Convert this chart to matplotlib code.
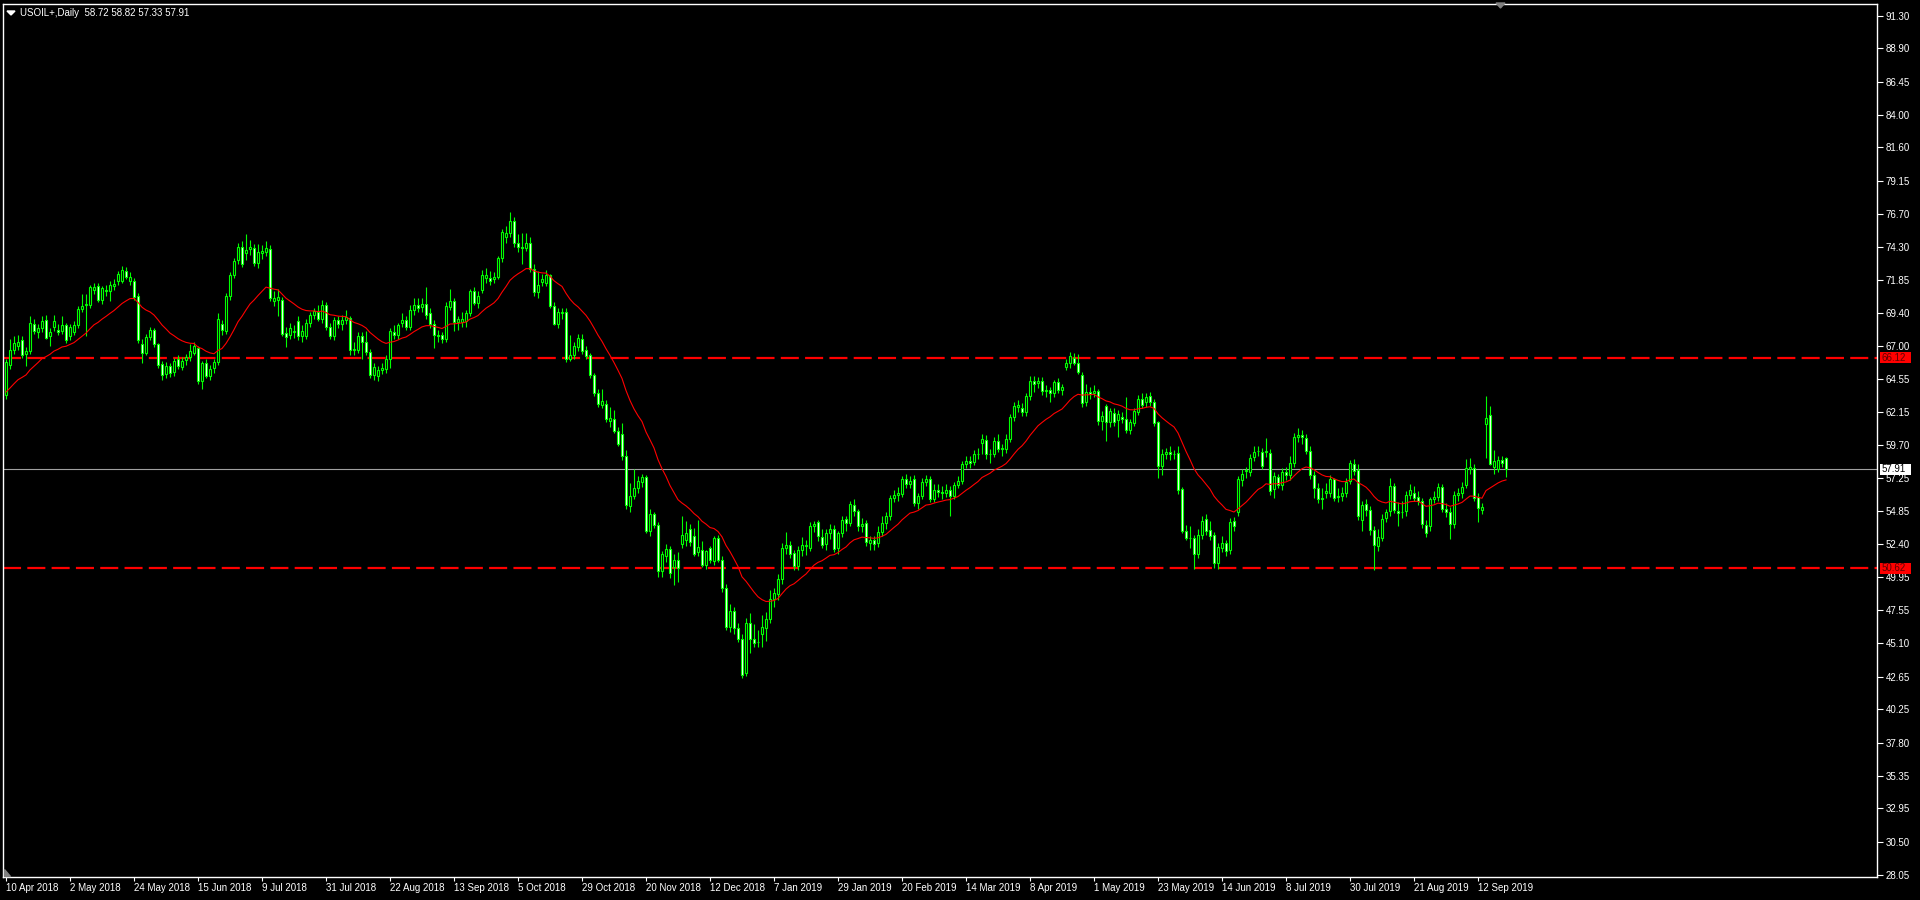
import matplotlib
matplotlib.use('Agg')
import matplotlib.pyplot as plt
import matplotlib.transforms as mtransforms
from matplotlib.patches import Polygon, Rectangle
import numpy as np
import pandas as pd

plt.rcParams['font.family'] = ['Liberation Sans', 'DejaVu Sans']
plt.rcParams['lines.scale_dashes'] = False

header = 'USOIL+,Daily  58.72 58.82 57.33 57.91'

# closes before 10 Apr 2018 (off the left edge), only needed to start the moving average
pre_closes = [62.57, 62.60, 61.15, 60.12, 62.04, 61.36, 60.71, 60.96, 61.19, 62.34,
              62.06, 63.54, 65.17, 64.30, 65.88, 65.55, 65.25, 64.38, 64.94, 63.01,
              63.51, 63.37, 63.54, 62.06, 63.42]

# daily bars, 10 Apr 2018 .. 23 Sep 2019
opens = [
    63.40, 65.60, 66.70, 67.00, 67.40, 66.40, 66.60, 68.60, 68.00, 68.30,
    68.90, 67.70, 68.40, 68.20, 68.10, 68.55, 67.70, 68.00, 68.55, 69.70,
    70.00, 70.00, 71.10, 71.40, 70.40, 71.00, 71.00, 71.42, 71.74, 71.80,
    72.50, 71.80, 71.80, 70.70, 67.15, 66.50, 67.65, 68.20, 67.10, 65.66,
    64.90, 65.50, 65.07, 66.00, 65.45, 65.95, 66.15, 66.50, 66.85, 64.40,
    65.70, 64.80, 65.40, 65.80, 68.60, 68.10, 70.70, 72.20, 73.28, 74.30,
    73.80, 74.10, 74.20, 73.10, 73.80, 73.90, 74.10, 70.30, 70.40, 70.40,
    67.94, 67.80, 68.00, 68.80, 67.70, 67.70, 68.70, 69.30, 69.50, 69.00,
    70.00, 68.40, 67.75, 68.90, 68.60, 68.90, 69.05, 66.70, 66.70, 67.75,
    67.30, 66.55, 64.83, 64.80, 65.20, 65.30, 66.00, 68.00, 67.80, 68.70,
    68.90, 68.40, 69.66, 70.00, 69.86, 70.10, 69.40, 68.60, 67.80, 67.80,
    67.50, 69.85, 70.27, 68.73, 68.73, 68.80, 69.40, 71.00, 70.15, 71.10,
    72.00, 72.00, 71.90, 72.10, 73.46, 75.00, 75.30, 76.20, 74.60, 74.30,
    74.20, 74.60, 72.65, 70.96, 71.70, 71.60, 72.20, 69.95, 68.60, 69.40,
    69.50, 66.03, 66.30, 66.90, 67.50, 66.67, 66.30, 64.83, 63.50, 62.62,
    62.75, 61.50, 61.64, 60.76, 60.50, 58.90, 55.20, 55.98, 56.50, 57.00,
    57.35, 53.36, 54.60, 53.80, 50.42, 51.50, 52.06, 50.70, 51.27, 52.40,
    52.70, 53.48, 53.00, 51.80, 52.00, 50.90, 52.10, 51.15, 52.87, 51.27,
    49.19, 46.30, 47.50, 46.25, 45.44, 42.95, 46.60, 45.44, 45.20, 45.76,
    46.25, 46.90, 48.33, 48.70, 49.80, 52.13, 52.33, 51.76, 50.80, 52.00,
    52.25, 52.13, 53.70, 54.00, 52.94, 52.40, 53.20, 53.50, 52.10, 53.24,
    54.27, 53.97, 55.27, 54.83, 53.70, 53.97, 52.50, 52.67, 52.50, 53.30,
    53.97, 54.50, 55.80, 56.05, 56.10, 57.20, 56.80, 57.16, 55.44, 55.93,
    56.96, 57.20, 55.73, 56.42, 56.25, 56.13, 56.40, 55.98, 56.79, 57.08,
    58.30, 58.55, 58.43, 59.00, 59.85, 60.10, 59.00, 59.07, 60.00, 59.40,
    59.43, 60.17, 61.76, 62.50, 62.40, 62.10, 63.28, 64.44, 64.26, 64.43,
    63.65, 63.77, 63.53, 64.30, 63.72, 65.44, 65.70, 66.10, 65.73, 64.88,
    62.90, 63.58, 63.50, 63.65, 61.50, 62.55, 61.37, 62.06, 61.52, 61.76,
    61.60, 60.78, 61.32, 62.10, 63.09, 62.84, 63.33, 62.90, 61.37, 58.13,
    59.07, 59.19, 59.07, 59.12, 56.47, 53.36, 52.87, 52.87, 51.64, 53.06,
    54.26, 53.41, 53.04, 51.03, 52.13, 52.50, 51.96, 54.14, 54.76, 57.10,
    57.77, 57.70, 58.80, 59.24, 59.19, 59.17, 59.12, 56.47, 57.35, 56.79,
    57.70, 57.48, 58.38, 60.27, 60.42, 60.22, 59.29, 57.48, 56.54, 55.74,
    56.18, 56.18, 57.16, 55.86, 55.93, 56.18, 57.03, 58.31, 57.89, 54.17,
    55.32, 54.95, 53.41, 52.26, 52.87, 54.34, 54.83, 56.70, 54.83, 54.78,
    54.83, 56.05, 56.13, 55.88, 55.56, 53.80, 53.73, 55.74, 55.88, 56.62,
    55.00, 54.78, 53.85, 56.05, 56.13, 56.79, 57.94, 58.00, 55.90, 54.90,
    61.25, 61.94, 58.09, 57.94, 58.63, 58.72,
]
highs = [
    66.00, 67.50, 67.70, 67.80, 67.70, 66.90, 69.20, 69.00, 68.60, 69.20,
    69.30, 68.30, 69.30, 68.60, 69.20, 68.70, 68.60, 68.80, 69.90, 70.80,
    70.80, 71.50, 71.60, 71.60, 71.40, 71.50, 71.80, 71.90, 72.50, 72.90,
    72.80, 72.40, 72.00, 70.90, 67.50, 67.90, 68.40, 68.30, 67.20, 65.90,
    65.80, 65.70, 66.10, 66.30, 66.20, 66.40, 67.10, 67.30, 67.00, 65.90,
    66.00, 65.60, 66.00, 69.40, 68.90, 70.90, 72.40, 73.50, 74.60, 74.70,
    75.20, 74.80, 74.50, 74.50, 74.40, 74.70, 74.40, 71.00, 71.20, 70.60,
    68.40, 68.70, 68.50, 69.20, 68.50, 69.00, 69.50, 69.80, 70.00, 70.40,
    70.20, 68.70, 69.10, 69.20, 69.30, 69.60, 69.20, 67.30, 68.00, 68.00,
    68.10, 66.80, 65.70, 65.50, 65.70, 66.30, 68.30, 68.50, 68.70, 69.40,
    69.20, 70.00, 70.50, 70.50, 70.50, 71.30, 69.80, 68.90, 68.20, 68.00,
    70.20, 71.20, 70.50, 69.20, 69.50, 69.60, 71.20, 71.30, 71.00, 72.60,
    72.70, 72.50, 72.40, 73.60, 75.60, 75.80, 76.85, 76.50, 75.20, 75.30,
    75.30, 75.00, 73.00, 72.50, 72.30, 72.60, 72.30, 70.20, 69.80, 69.80,
    69.80, 67.80, 67.30, 67.90, 67.90, 67.00, 66.50, 65.00, 63.80, 63.80,
    63.00, 62.50, 62.30, 61.00, 61.30, 59.30, 56.90, 57.90, 57.40, 57.60,
    57.50, 55.00, 54.80, 54.00, 51.90, 52.40, 52.30, 51.70, 51.80, 54.50,
    54.10, 53.90, 53.60, 54.20, 52.60, 52.00, 52.30, 53.00, 53.10, 51.50,
    49.50, 48.00, 47.80, 46.60, 45.80, 46.95, 47.30, 46.50, 46.10, 47.20,
    47.40, 49.00, 49.20, 50.20, 52.50, 53.30, 52.60, 52.00, 52.30, 52.90,
    52.70, 54.00, 54.10, 54.20, 53.50, 53.50, 53.90, 53.80, 53.40, 54.50,
    54.50, 55.60, 55.70, 55.00, 54.30, 54.20, 53.00, 53.00, 53.70, 54.50,
    54.80, 56.00, 56.40, 56.60, 57.40, 57.60, 57.40, 57.50, 56.20, 57.30,
    57.50, 57.40, 56.80, 56.80, 56.70, 56.80, 56.70, 57.00, 57.40, 58.50,
    58.90, 58.90, 59.30, 59.50, 60.50, 60.40, 59.40, 60.30, 60.50, 59.80,
    60.50, 62.00, 62.90, 63.00, 62.80, 63.50, 64.80, 64.80, 64.70, 64.70,
    64.10, 64.00, 64.50, 64.60, 64.20, 66.00, 66.55, 66.50, 66.40, 65.10,
    64.20, 64.00, 64.10, 63.80, 62.20, 62.70, 62.40, 62.40, 62.30, 62.10,
    63.20, 61.60, 62.40, 63.40, 63.50, 63.50, 63.60, 63.10, 61.50, 59.40,
    59.50, 59.60, 59.30, 59.60, 56.60, 53.80, 53.70, 53.10, 53.50, 54.50,
    54.60, 54.10, 53.30, 52.50, 53.00, 52.70, 54.30, 54.40, 57.40, 57.90,
    58.10, 59.00, 59.60, 59.60, 59.50, 60.20, 59.40, 57.70, 57.60, 58.00,
    58.10, 58.90, 60.60, 60.95, 60.80, 60.50, 59.60, 57.80, 56.90, 56.50,
    56.90, 57.50, 57.30, 56.50, 56.60, 57.30, 58.60, 58.70, 58.30, 55.60,
    55.70, 55.20, 53.70, 53.50, 54.60, 55.00, 57.30, 56.90, 55.50, 55.60,
    56.30, 56.80, 56.70, 56.30, 55.80, 54.20, 55.90, 56.30, 56.90, 56.80,
    55.40, 55.10, 56.30, 56.50, 57.00, 58.70, 58.75, 58.30, 56.20, 55.40,
    63.33, 62.60, 59.30, 58.90, 58.90, 58.82,
]
lows = [
    63.10, 65.30, 66.40, 66.70, 66.10, 65.50, 66.40, 67.90, 67.60, 68.00,
    67.50, 67.00, 68.10, 67.80, 67.90, 67.20, 67.40, 67.80, 68.30, 69.50,
    67.70, 69.80, 70.80, 70.20, 70.10, 70.70, 70.30, 71.10, 71.50, 71.60,
    71.90, 71.50, 70.40, 67.20, 65.70, 66.30, 67.40, 66.90, 65.40, 64.50,
    64.60, 64.70, 64.80, 65.30, 65.20, 65.60, 65.90, 66.30, 64.20, 63.80,
    64.60, 64.50, 65.00, 65.60, 67.80, 67.90, 70.40, 72.00, 73.00, 72.80,
    73.30, 73.70, 72.90, 72.70, 73.40, 73.60, 70.30, 69.90, 69.20, 67.70,
    66.90, 67.50, 67.60, 67.40, 67.30, 67.50, 68.40, 69.00, 68.80, 68.70,
    68.20, 67.50, 67.40, 68.30, 68.20, 68.60, 66.30, 66.30, 66.50, 66.00,
    66.30, 64.60, 64.50, 64.40, 64.90, 65.00, 65.40, 67.50, 67.50, 68.40,
    68.20, 68.20, 69.30, 69.50, 69.50, 69.00, 68.30, 66.85, 67.30, 67.20,
    67.30, 69.60, 68.10, 68.20, 68.40, 68.40, 69.20, 70.00, 69.80, 70.90,
    71.60, 71.50, 71.60, 71.90, 73.20, 74.60, 75.00, 74.30, 73.90, 73.00,
    74.00, 72.40, 70.70, 70.50, 71.40, 71.40, 69.80, 68.50, 68.30, 69.00,
    65.80, 65.90, 66.00, 66.60, 66.40, 66.00, 64.60, 63.30, 62.50, 62.40,
    61.40, 61.00, 60.60, 59.60, 58.60, 55.00, 54.80, 55.70, 56.20, 56.60,
    53.20, 53.00, 53.60, 50.00, 50.00, 51.10, 49.90, 49.40, 49.60, 52.10,
    52.30, 52.30, 51.50, 51.50, 50.70, 50.60, 51.00, 50.90, 51.10, 48.90,
    46.10, 45.90, 45.80, 45.20, 42.55, 42.70, 44.40, 44.80, 44.80, 44.80,
    45.30, 46.60, 47.80, 48.30, 49.50, 51.70, 51.40, 50.50, 50.50, 51.50,
    51.60, 51.90, 53.30, 52.60, 52.10, 52.00, 52.80, 51.80, 51.70, 52.90,
    53.40, 53.70, 54.50, 53.40, 53.30, 52.30, 52.00, 52.00, 52.20, 53.00,
    53.50, 54.20, 55.50, 55.60, 55.90, 56.50, 56.50, 55.20, 55.00, 55.70,
    56.70, 55.50, 55.50, 55.90, 55.70, 55.90, 54.46, 55.70, 56.50, 56.80,
    58.00, 58.00, 58.20, 58.70, 59.00, 58.70, 58.40, 58.80, 59.20, 58.90,
    59.10, 59.90, 61.50, 62.10, 61.80, 61.80, 63.00, 63.60, 63.90, 63.40,
    63.20, 62.90, 63.20, 63.50, 63.40, 65.20, 65.40, 65.60, 64.90, 62.50,
    62.60, 63.10, 63.20, 61.20, 60.80, 60.00, 61.00, 61.10, 60.30, 61.30,
    60.60, 60.50, 61.10, 61.90, 62.40, 62.50, 62.60, 61.10, 57.30, 57.50,
    58.70, 58.60, 58.70, 56.10, 53.20, 52.70, 52.10, 50.55, 51.40, 52.80,
    53.10, 52.70, 50.65, 50.60, 51.80, 51.50, 51.70, 53.40, 54.50, 56.70,
    57.30, 57.40, 58.50, 58.90, 57.90, 58.80, 56.00, 55.80, 56.50, 56.40,
    57.10, 57.10, 58.10, 59.90, 59.80, 59.00, 57.20, 55.80, 55.40, 55.00,
    55.80, 55.90, 55.60, 55.50, 55.60, 55.90, 56.80, 57.50, 54.20, 53.40,
    54.50, 53.10, 50.50, 51.90, 52.60, 54.00, 54.50, 54.70, 53.70, 54.30,
    54.50, 55.70, 55.60, 55.30, 53.60, 52.90, 53.40, 55.40, 55.60, 54.80,
    54.40, 52.80, 53.60, 55.60, 55.80, 56.50, 57.60, 55.60, 54.00, 54.60,
    58.75, 58.19, 57.60, 57.70, 58.10, 57.33,
]
closes = [
    65.80, 66.70, 67.20, 67.30, 66.30, 66.60, 68.70, 68.10, 68.30, 68.85,
    67.60, 68.00, 68.85, 68.00, 68.55, 67.45, 68.40, 68.50, 69.70, 69.95,
    70.10, 71.30, 71.30, 70.40, 71.25, 71.10, 71.50, 71.57, 72.28, 72.60,
    72.10, 72.10, 70.60, 67.40, 66.50, 67.65, 68.20, 67.10, 65.60, 64.88,
    65.50, 65.00, 65.90, 65.50, 65.85, 66.15, 66.60, 67.00, 64.40, 65.70,
    64.80, 65.30, 65.80, 69.00, 68.15, 70.70, 72.20, 73.26, 74.30, 73.00,
    74.07, 74.24, 73.10, 73.90, 74.00, 74.20, 70.50, 70.50, 70.60, 67.90,
    67.62, 68.30, 68.10, 67.70, 68.10, 68.70, 69.30, 69.54, 69.00, 70.00,
    68.40, 67.75, 68.90, 68.60, 68.90, 69.10, 66.70, 66.80, 67.75, 67.30,
    66.55, 64.83, 65.45, 65.20, 65.40, 66.00, 68.10, 67.80, 68.50, 68.90,
    68.40, 69.66, 70.00, 69.80, 70.10, 69.30, 68.60, 67.80, 67.70, 67.50,
    69.90, 70.27, 68.73, 68.97, 69.00, 69.40, 71.00, 70.15, 70.65, 72.20,
    72.20, 71.80, 72.10, 73.46, 75.40, 75.30, 76.20, 74.60, 74.30, 74.20,
    74.60, 72.65, 70.96, 71.50, 71.90, 72.20, 69.95, 68.60, 69.50, 69.50,
    66.03, 66.35, 67.00, 67.60, 66.60, 66.28, 64.83, 63.50, 62.75, 62.97,
    61.64, 61.70, 60.71, 59.78, 58.90, 55.27, 55.98, 56.50, 57.08, 57.35,
    53.36, 54.60, 53.80, 50.42, 51.64, 52.06, 50.30, 51.27, 50.66, 53.10,
    53.25, 52.55, 51.70, 52.20, 50.90, 51.90, 51.20, 52.87, 51.27, 49.19,
    46.30, 47.50, 46.25, 45.44, 42.75, 46.60, 45.44, 45.15, 45.22, 46.30,
    46.90, 48.33, 48.80, 49.80, 52.13, 52.33, 51.70, 50.80, 52.00, 52.37,
    52.37, 53.70, 53.90, 53.00, 52.33, 53.19, 53.53, 52.06, 53.24, 54.20,
    53.97, 55.37, 54.83, 53.70, 53.92, 52.57, 52.70, 52.43, 53.30, 53.97,
    54.50, 55.80, 56.05, 56.13, 57.20, 56.80, 57.08, 55.44, 55.98, 56.98,
    57.20, 55.73, 56.37, 56.25, 56.18, 56.42, 55.98, 56.79, 57.08, 58.30,
    58.55, 58.40, 59.00, 59.07, 60.15, 59.00, 59.07, 60.00, 59.40, 59.48,
    60.17, 61.76, 62.60, 62.67, 62.10, 63.28, 64.39, 64.19, 64.44, 63.65,
    63.77, 63.53, 64.30, 63.72, 63.97, 65.70, 66.22, 65.70, 65.07, 62.80,
    63.58, 63.48, 63.65, 61.50, 61.86, 61.37, 62.18, 61.37, 62.00, 61.64,
    60.78, 61.37, 62.20, 63.09, 62.67, 63.23, 62.90, 61.30, 58.13, 59.00,
    59.19, 59.07, 59.05, 56.37, 53.36, 52.87, 52.85, 51.70, 53.10, 54.14,
    53.36, 52.99, 51.03, 52.20, 52.50, 51.90, 54.05, 53.73, 57.16, 57.57,
    57.84, 58.75, 59.19, 59.29, 58.14, 59.29, 56.30, 57.40, 56.79, 57.72,
    57.48, 58.38, 60.30, 60.42, 60.30, 59.29, 57.48, 56.54, 55.74, 55.81,
    56.30, 57.16, 55.81, 55.93, 56.18, 56.99, 58.38, 57.77, 54.46, 55.25,
    54.88, 53.43, 52.33, 52.94, 54.27, 54.78, 56.70, 54.95, 54.71, 54.80,
    56.05, 56.42, 55.81, 55.56, 53.85, 53.24, 55.69, 55.88, 56.62, 55.00,
    54.75, 53.92, 56.05, 56.18, 56.62, 58.00, 58.09, 55.80, 55.07, 55.15,
    61.69, 58.31, 58.55, 58.63, 58.38, 57.91,
]

date_labels = ['10 Apr 2018', '2 May 2018', '24 May 2018', '15 Jun 2018', '9 Jul 2018',
               '31 Jul 2018', '22 Aug 2018', '13 Sep 2018', '5 Oct 2018', '29 Oct 2018',
               '20 Nov 2018', '12 Dec 2018', '7 Jan 2019', '29 Jan 2019', '20 Feb 2019',
               '14 Mar 2019', '8 Apr 2019', '1 May 2019', '23 May 2019', '14 Jun 2019',
               '8 Jul 2019', '30 Jul 2019', '21 Aug 2019', '12 Sep 2019']
price_ticks = [91.30, 88.90, 86.45, 84.00, 81.60, 79.15, 76.70, 74.30, 71.85, 69.40,
               67.00, 64.55, 62.15, 59.70, 57.25, 54.85, 52.40, 49.95, 47.55, 45.10,
               42.65, 40.25, 37.80, 35.35, 32.95, 30.50, 28.05]
levels = [66.12, 50.62]
bid = 57.91
ma_period = 20

W, H = 1920, 900
GREEN = '#00ff00'

fig = plt.figure(figsize=(W / 100, H / 100), dpi=100, facecolor='black')
ax = fig.add_axes([3 / W, 1 - 877 / H, 1874 / W, 873 / H])
ax.set_facecolor('black')
ax.set_xlim(-0.75, 467.75)
ax.set_ylim(27.90, 92.16)
for sp in ax.spines.values():
    sp.set_color('white')
    sp.set_linewidth(1)

n = len(closes)
x = np.arange(n)
o = np.array(opens)
c = np.array(closes)

# horizontal levels and bid line, behind the candles
for lv in levels:
    ax.axhline(lv, color='#ff0000', lw=1.6, dashes=(13, 4.5), zorder=1)
ax.axhline(bid, color='#a0a0a0', lw=0.8, zorder=1)

# candles: bull = hollow (black), bear = white body
ax.vlines(x, lows, highs, color=GREEN, lw=0.8, zorder=2)
fill = np.where(c >= o, 'black', 'white')
ax.bar(x, np.abs(c - o), bottom=np.minimum(o, c), width=0.5, color=fill,
       edgecolor=GREEN, linewidth=0.8, zorder=3)

# moving average (exponential)
allc = pd.Series(pre_closes + closes)
ma = allc.ewm(span=ma_period, adjust=False).mean().to_numpy()[-n:]
ax.plot(x, ma, color='#ff0000', lw=0.8, zorder=4)

# price scale on the right, dates below
ax.yaxis.tick_right()
ax.set_yticks(price_ticks)
ax.set_yticklabels(['%.2f' % p for p in price_ticks])
ax.tick_params(axis='y', colors='white', length=4, width=0.8, pad=2, labelsize=7)
ax.set_xticks(np.arange(len(date_labels)) * 16)
ax.set_xticklabels(date_labels)
ax.tick_params(axis='x', colors='white', length=3, width=0.8, pad=1, labelsize=7)
for lab in ax.get_xticklabels():
    lab.set_horizontalalignment('left')

# price boxes on the right scale
trans = mtransforms.blended_transform_factory(fig.transFigure, ax.transData)
for p, face, tc in [(levels[0], '#ff0000', '#600000'), (levels[1], '#ff0000', '#600000'),
                    (bid, 'white', 'black')]:
    fig.add_artist(Rectangle((1880 / W, p - 0.4), 31 / W, 0.8, transform=trans,
                             facecolor=face, edgecolor='none', zorder=5))
    fig.text(1882 / W, p, '%.2f' % p, transform=trans, color=tc, fontsize=7,
             va='center', ha='left', zorder=6)

# header
fig.add_artist(Polygon([(7 / W, 1 - 11 / H), (15 / W, 1 - 11 / H), (11 / W, 1 - 15 / H)],
                       closed=True, transform=fig.transFigure, color='white'))
fig.text(20 / W, 1 - 12.5 / H, header, color='white', fontsize=7, va='center', ha='left')

# small grey markers (chart shift, scroll)
fig.add_artist(Polygon([(1496 / W, 1 - 3 / H), (1505 / W, 1 - 3 / H), (1500.5 / W, 1 - 8 / H)],
                       closed=True, transform=fig.transFigure, color='#808080'))
fig.add_artist(Polygon([(4 / W, 1 - 869 / H), (4 / W, 1 - 876 / H), (10 / W, 1 - 876 / H)],
                       closed=True, transform=fig.transFigure, color='#808080'))

fig.savefig('out.png', dpi=100, facecolor='black')
